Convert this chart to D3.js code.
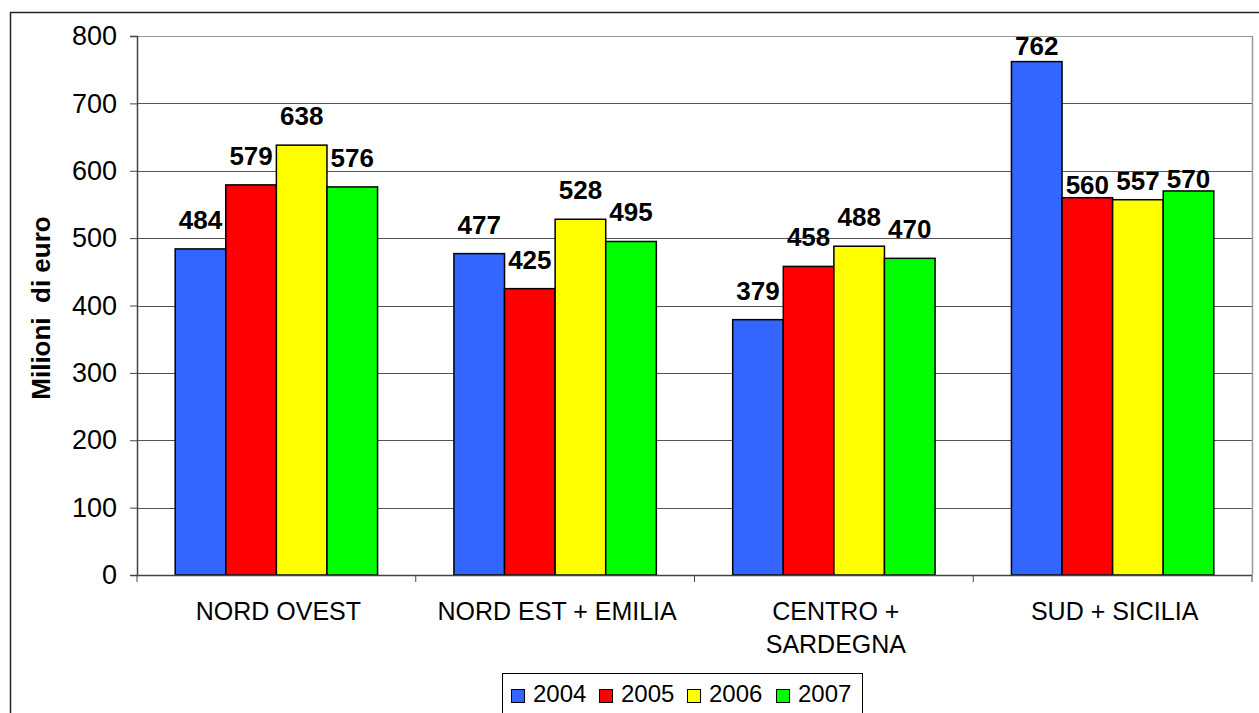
<!DOCTYPE html>
<html>
<head>
<meta charset="utf-8">
<script src="https://cdn.jsdelivr.net/npm/d3@7"></script>
<style>
  html, body { margin: 0; padding: 0; background: #fff; }
  svg { display: block; font-family: "Liberation Sans", Arial, sans-serif; }
</style>
</head>
<body>
<svg id="chart" width="1259" height="713"></svg>
<script>
// Regional values, millions of euro
const regions = [["NORD OVEST"], ["NORD EST + EMILIA"], ["CENTRO +", "SARDEGNA"], ["SUD + SICILIA"]];
const years = ["2004", "2005", "2006", "2007"];
const colors = ["#3366FF", "#FF0000", "#FFFF00", "#00FF00"];
const v2004 = [484, 477, 379, 762];
const v2005 = [579, 425, 458, 560];
const v2006 = [638, 528, 488, 557];
const v2007 = [576, 495, 470, 570];
const yTicks = [0, 100, 200, 300, 400, 500, 600, 700, 800];

const series = [v2004, v2005, v2006, v2007];
const svg = d3.select("#chart");

const plot = { left: 137, top: 36, right: 1252, bottom: 575 };

// outer frame
svg.append("rect")
  .attr("x", 10.5).attr("y", 12.5)
  .attr("width", 1262).attr("height", 720)
  .attr("fill", "none").attr("stroke", "#222").attr("stroke-width", 1.5);

const x0 = d3.scaleBand()
  .domain(d3.range(regions.length))
  .range([plot.left, plot.right])
  .paddingInner(0).paddingOuter(0);

const inner = 0.137; // gap on each side of a cluster, as share of the band
const x1 = d3.scaleBand()
  .domain(d3.range(years.length))
  .range([x0.bandwidth() * inner, x0.bandwidth() * (1 - inner)]);

const y = d3.scaleLinear().domain([0, 800]).range([plot.bottom, plot.top]);

// gridlines
svg.append("g").selectAll("line")
  .data(yTicks.slice(1))
  .join("line")
  .attr("x1", plot.left).attr("x2", plot.right)
  .attr("y1", d => Math.round(y(d)) + 0.5).attr("y2", d => Math.round(y(d)) + 0.5)
  .attr("stroke", d => d === 800 ? "#999" : "#555").attr("stroke-width", 1);

// right border of plot area
svg.append("line")
  .attr("x1", plot.right + 0.5).attr("x2", plot.right + 0.5)
  .attr("y1", plot.top).attr("y2", plot.bottom)
  .attr("stroke", "#999").attr("stroke-width", 1.5);

// bars
const groups = svg.append("g").selectAll("g")
  .data(regions.map((r, i) => i))
  .join("g")
  .attr("transform", i => `translate(${x0(i)},0)`);

groups.selectAll("rect")
  .data(i => series.map((s, k) => ({ i, k, v: s[i] })))
  .join("rect")
  .attr("x", d => x1(d.k))
  .attr("width", x1.bandwidth())
  .attr("y", d => y(d.v))
  .attr("height", d => plot.bottom - y(d.v))
  .attr("fill", d => colors[d.k])
  .attr("stroke", "#000").attr("stroke-width", 1.5);

// value labels sit 20px above the bar, kept inside the plot; the
// crowded last cluster has its labels pulled down toward the bars
const labelGap = 20;
const crowdedGap = { "3-1": 4, "3-2": 10, "3-3": 3 };
groups.selectAll("text")
  .data(i => series.map((s, k) => ({ i, k, v: s[i] })))
  .join("text")
  .attr("x", d => x1(d.k) + x1.bandwidth() / 2)
  .attr("y", d => {
    const gap = crowdedGap[d.i + "-" + d.k] ?? labelGap;
    return Math.max(y(d.v) - gap, plot.top + 19);
  })
  .attr("text-anchor", "middle")
  .attr("font-size", 26).attr("font-weight", "bold")
  .text(d => d.v);

// y axis
const yAxis = svg.append("g")
  .attr("transform", `translate(${plot.left},0)`)
  .call(d3.axisLeft(y).tickValues(yTicks).tickSize(7).tickPadding(13));
yAxis.select(".domain").attr("stroke", "#444").attr("stroke-width", 1.5);
yAxis.selectAll(".tick line").attr("stroke", "#444");
yAxis.selectAll(".tick text")
  .attr("font-size", 27).attr("fill", "#000")
  .attr("font-family", "Liberation Sans, Arial, sans-serif");

// x axis
svg.append("line")
  .attr("x1", plot.left).attr("x2", plot.right)
  .attr("y1", plot.bottom + 0.5).attr("y2", plot.bottom + 0.5)
  .attr("stroke", "#444").attr("stroke-width", 1.5);
svg.append("g").selectAll("line")
  .data(d3.range(regions.length + 1))
  .join("line")
  .attr("x1", i => i < regions.length ? x0(i) : plot.right)
  .attr("x2", i => i < regions.length ? x0(i) : plot.right)
  .attr("y1", plot.bottom).attr("y2", plot.bottom + 7)
  .attr("stroke", "#444").attr("stroke-width", 1);

const catLabels = svg.append("g").selectAll("text")
  .data(regions.map((r, i) => ({ r, i })))
  .join("text")
  .attr("text-anchor", "middle")
  .attr("font-size", 25)
  .attr("x", d => x0(d.i) + x0.bandwidth() / 2 + 2)
  .attr("y", 620);
catLabels.selectAll("tspan")
  .data(d => d.r)
  .join("tspan")
  .attr("x", function () { return d3.select(this.parentNode).attr("x"); })
  .attr("dy", (d, j) => j === 0 ? 0 : 33)
  .text(d => d);

// y axis title
svg.append("text")
  .attr("transform", "translate(50,308) rotate(-90)")
  .attr("text-anchor", "middle")
  .attr("font-size", 26).attr("font-weight", "bold")
  .attr("xml:space", "preserve")
  .text("Milioni  di euro");

// legend
const legend = svg.append("g").attr("transform", "translate(502,673)");
legend.append("rect")
  .attr("x", 0.5).attr("y", 0.5).attr("width", 360).attr("height", 50)
  .attr("fill", "#fff").attr("stroke", "#000").attr("stroke-width", 1);
const itemX = [9, 97, 185, 274];
const items = legend.selectAll("g.item")
  .data(years.map((yr, k) => ({ yr, k })))
  .join("g").attr("class", "item")
  .attr("transform", d => `translate(${itemX[d.k]},0)`);
items.append("rect")
  .attr("x", 0.5).attr("y", 16.5).attr("width", 13).attr("height", 13)
  .attr("fill", d => colors[d.k]).attr("stroke", "#000").attr("stroke-width", 1);
items.append("text")
  .attr("x", 22).attr("y", 29)
  .attr("font-size", 24)
  .text(d => d.yr);
</script>
</body>
</html>
